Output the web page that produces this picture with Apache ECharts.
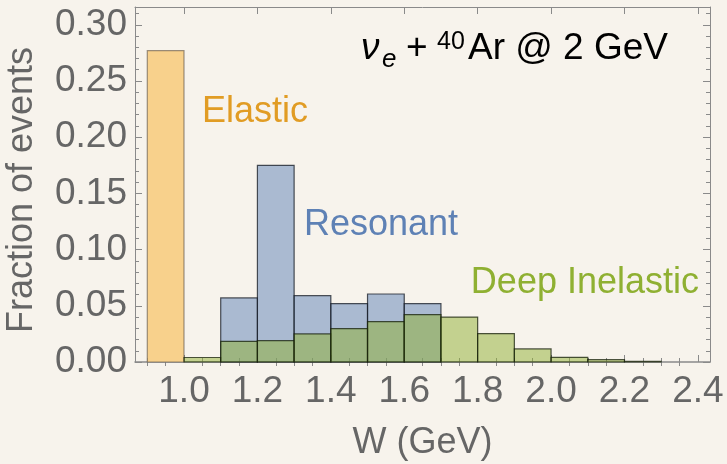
<!DOCTYPE html>
<html>
<head>
<meta charset="utf-8">
<script src="https://cdn.jsdelivr.net/npm/echarts@6/dist/echarts.min.js"></script>
<style>
html,body{margin:0;padding:0;background:#f7f3ec;}
#chart{width:727px;height:464px;}
</style>
</head>
<body>
<div id="chart"></div>
<script>
// ---- data ----
const binStarts = [0.9, 1.0, 1.1, 1.2, 1.3, 1.4, 1.5, 1.6, 1.7, 1.8, 1.9, 2.0, 2.1, 2.2];
const binWidth = 0.1;
const elastic       = [0.277, 0, 0, 0, 0, 0, 0, 0, 0, 0, 0, 0, 0, 0];
const resonant      = [0, 0, 0.057, 0.175, 0.059, 0.052, 0.0605, 0.052, 0, 0, 0, 0, 0, 0];
const deepInelastic = [0, 0.004, 0.0184, 0.019, 0.025, 0.0297, 0.036, 0.0422, 0.040, 0.0253, 0.0116, 0.0042, 0.0021, 0.0005];
const xTickLabels = [1.0, 1.2, 1.4, 1.6, 1.8, 2.0, 2.2, 2.4];
const xMinorTicks = [0.9, 0.95, 1.05, 1.1, 1.15, 1.25, 1.3, 1.35, 1.45, 1.5, 1.55, 1.65, 1.7, 1.75, 1.85, 1.9, 1.95, 2.05, 2.1, 2.15, 2.25, 2.3, 2.35];
const yTickLabels = [0.00, 0.05, 0.10, 0.15, 0.20, 0.25, 0.30];
const yMinorTicks = [0.01, 0.02, 0.03, 0.04, 0.06, 0.07, 0.08, 0.09, 0.11, 0.12, 0.13, 0.14, 0.16, 0.17, 0.18, 0.19, 0.21, 0.22, 0.23, 0.24, 0.26, 0.27, 0.28, 0.29, 0.31];
const xRange = [0.8665, 2.433];
const yRange = [0, 0.3158];

const FONT = "'Liberation Sans', Arial, Helvetica, sans-serif";
const GRAY = '#666666';
const FRAME = '#8a8a8a';

function histData(vals) {
  const out = [];
  vals.forEach((v, i) => { if (v > 0) out.push([binStarts[i], binStarts[i] + binWidth, v]); });
  return out;
}

function histSeries(name, vals, fill, stroke, lw) {
  return {
    name: name,
    type: 'custom',
    xAxisIndex: 0, yAxisIndex: 0,
    encode: { x: [0, 1], y: 2 },
    data: histData(vals),
    renderItem: function (params, api) {
      const p0 = api.coord([api.value(0), api.value(2)]);
      const p1 = api.coord([api.value(1), 0]);
      return {
        type: 'rect',
        shape: { x: p0[0], y: p0[1], width: p1[0] - p0[0], height: p1[1] - p0[1] },
        style: { fill: fill, stroke: stroke, lineWidth: lw }
      };
    }
  };
}

function xAx(pos, ticks, len, opts) {
  return Object.assign({
    type: 'value', position: pos, min: xRange[0], max: xRange[1],
    splitLine: { show: false },
    axisLine: { show: false },
    axisTick: { show: true, inside: true, length: len, customValues: ticks, lineStyle: { color: FRAME, width: 1 } },
    axisLabel: { show: false }
  }, opts || {});
}
function yAx(pos, ticks, len, opts) {
  return Object.assign({
    type: 'value', position: pos, min: yRange[0], max: yRange[1],
    splitLine: { show: false },
    axisLine: { show: false },
    axisTick: { show: true, inside: true, length: len, customValues: ticks, lineStyle: { color: FRAME, width: 1 } },
    axisLabel: { show: false }
  }, opts || {});
}

const chart = echarts.init(document.getElementById('chart'), null, { renderer: 'canvas' });
chart.setOption({
  backgroundColor: '#f7f3ec',
  animation: false,
  grid: { left: 135, right: 17, top: 7, bottom: 102, containLabel: false, outerBoundsMode: 'none' },
  xAxis: [
    xAx('bottom', xTickLabels, 7, {
      axisLine: { show: true, onZero: false, lineStyle: { color: FRAME, width: 1.5 } },
      axisLabel: { show: true, customValues: xTickLabels, formatter: v => v.toFixed(1), fontSize: 37, fontFamily: FONT, color: GRAY, margin: 11 },
      name: 'W (GeV)', nameLocation: 'middle', nameGap: 63,
      nameTextStyle: { fontSize: 36, fontFamily: FONT, color: GRAY }
    }),
    xAx('bottom', xMinorTicks, 4),
    xAx('top', xTickLabels, 7, { axisLine: { show: true, onZero: false, lineStyle: { color: FRAME, width: 1 } } }),
    xAx('top', xMinorTicks, 4)
  ],
  yAxis: [
    yAx('left', yTickLabels, 7, {
      axisLine: { show: true, onZero: false, lineStyle: { color: FRAME, width: 1 } },
      axisLabel: { show: true, customValues: yTickLabels, formatter: v => v.toFixed(2), fontSize: 37, fontFamily: FONT, color: GRAY, margin: 8 }
    }),
    yAx('left', yMinorTicks, 4),
    yAx('right', yTickLabels, 7, { axisLine: { show: true, onZero: false, lineStyle: { color: FRAME, width: 1 } } }),
    yAx('right', yMinorTicks, 4)
  ],
  series: [
    histSeries('Elastic', elastic, '#f8d18c', 'rgba(90,80,70,0.6)', 1.2),
    histSeries('Resonant', resonant, 'rgba(94,129,181,0.5)', 'rgba(20,25,35,0.75)', 1.2),
    histSeries('Deep Inelastic', deepInelastic, 'rgba(143,176,50,0.5)', 'rgba(20,30,10,0.75)', 1.2)
  ],
  graphic: [
    { type: 'text', x: 22, y: 190, rotation: Math.PI / 2,
      style: { text: 'Fraction of events', fontSize: 36, fontFamily: FONT, fill: GRAY, align: 'center', verticalAlign: 'middle' } },
    { type: 'text', x: 202, y: 112,
      style: { text: 'Elastic', fontSize: 36, fontFamily: FONT, fill: '#e19c24', align: 'left', verticalAlign: 'middle' } },
    { type: 'text', x: 304, y: 225,
      style: { text: 'Resonant', fontSize: 36, fontFamily: FONT, fill: '#5e81b5', align: 'left', verticalAlign: 'middle' } },
    { type: 'text', x: 699, y: 283,
      style: { text: 'Deep Inelastic', fontSize: 36, fontFamily: FONT, fill: '#8fb032', align: 'right', verticalAlign: 'middle' } },
    { type: 'text', x: 361, y: 49,
      style: { text: 'ν', fontSize: 37, fontStyle: 'italic', fontFamily: FONT, fill: '#000', align: 'left', verticalAlign: 'middle' } },
    { type: 'text', x: 382, y: 60,
      style: { text: 'e', fontSize: 26, fontStyle: 'italic', fontFamily: FONT, fill: '#000', align: 'left', verticalAlign: 'middle' } },
    { type: 'text', x: 406, y: 49,
      style: { text: '+', fontSize: 37, fontFamily: FONT, fill: '#000', align: 'left', verticalAlign: 'middle' } },
    { type: 'text', x: 437, y: 42,
      style: { text: '40', fontSize: 25, fontFamily: FONT, fill: '#000', align: 'left', verticalAlign: 'middle' } },
    { type: 'text', x: 468, y: 49,
      style: { text: 'Ar @ 2 GeV', fontSize: 37, fontFamily: FONT, fill: '#000', align: 'left', verticalAlign: 'middle' } }
  ]
});
</script>
</body>
</html>
